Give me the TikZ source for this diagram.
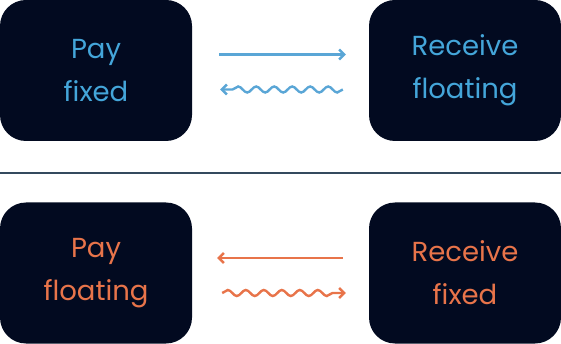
\documentclass[tikz,border=0pt]{standalone}
\usepackage{fontspec}
\setmainfont{Poppins}
\usetikzlibrary{arrows.meta,decorations.pathmorphing}
\definecolor{boxbg}{HTML}{020A20}
\definecolor{tblue}{HTML}{44A6DA}
\definecolor{ablue}{HTML}{5AA6D6}
\definecolor{torange}{HTML}{E8744A}
\definecolor{sepline}{HTML}{344A5E}
\begin{document}
\begin{tikzpicture}[x=1pt,y=-1pt,
  party/.style={fill=boxbg, rounded corners=26pt, minimum width=192pt, minimum height=141pt, inner sep=0pt, align=center, font=\fontsize{27.5}{43}\selectfont},
  flow/.style={line width=2.4pt, -{Straight Barb[length=5pt,width=10pt,line width=2.4pt]}},
  wave/.style={flow, decorate, decoration={snake, amplitude=3pt, segment length=18pt, pre length=0pt, post length=9pt}}
]
\useasboundingbox (0,0) rectangle (561,344);
\node[party, text=tblue] (pf) at (96,70.5) {Pay\\fixed};
\node[party, text=tblue] (rf) at (465,70.5) {Receive\\floating};
\node[party, text=torange] (pfl) at (96,273) {Pay\\floating};
\node[party, text=torange] (rfx) at (465,273) {Receive\\fixed};
\coordinate (sl) at (0,173);
\coordinate (sr) at (561,173);
\draw[sepline, line width=1.6pt] (sl) -- (sr);
\draw[flow, ablue] ([xshift=27pt,yshift=16pt]pf.east) -- ([xshift=-23pt,yshift=16pt]rf.west);
\draw[wave, ablue] ([xshift=-26pt,yshift=-19pt]rf.west) -- ([xshift=28pt,yshift=-19pt]pf.east);
\draw[flow, torange] ([xshift=-26pt,yshift=15pt]rfx.west) -- ([xshift=25pt,yshift=15pt]pfl.east);
\draw[wave, torange] ([xshift=30pt,yshift=-20pt]pfl.east) -- ([xshift=-23pt,yshift=-20pt]rfx.west);
\end{tikzpicture}
\end{document}
